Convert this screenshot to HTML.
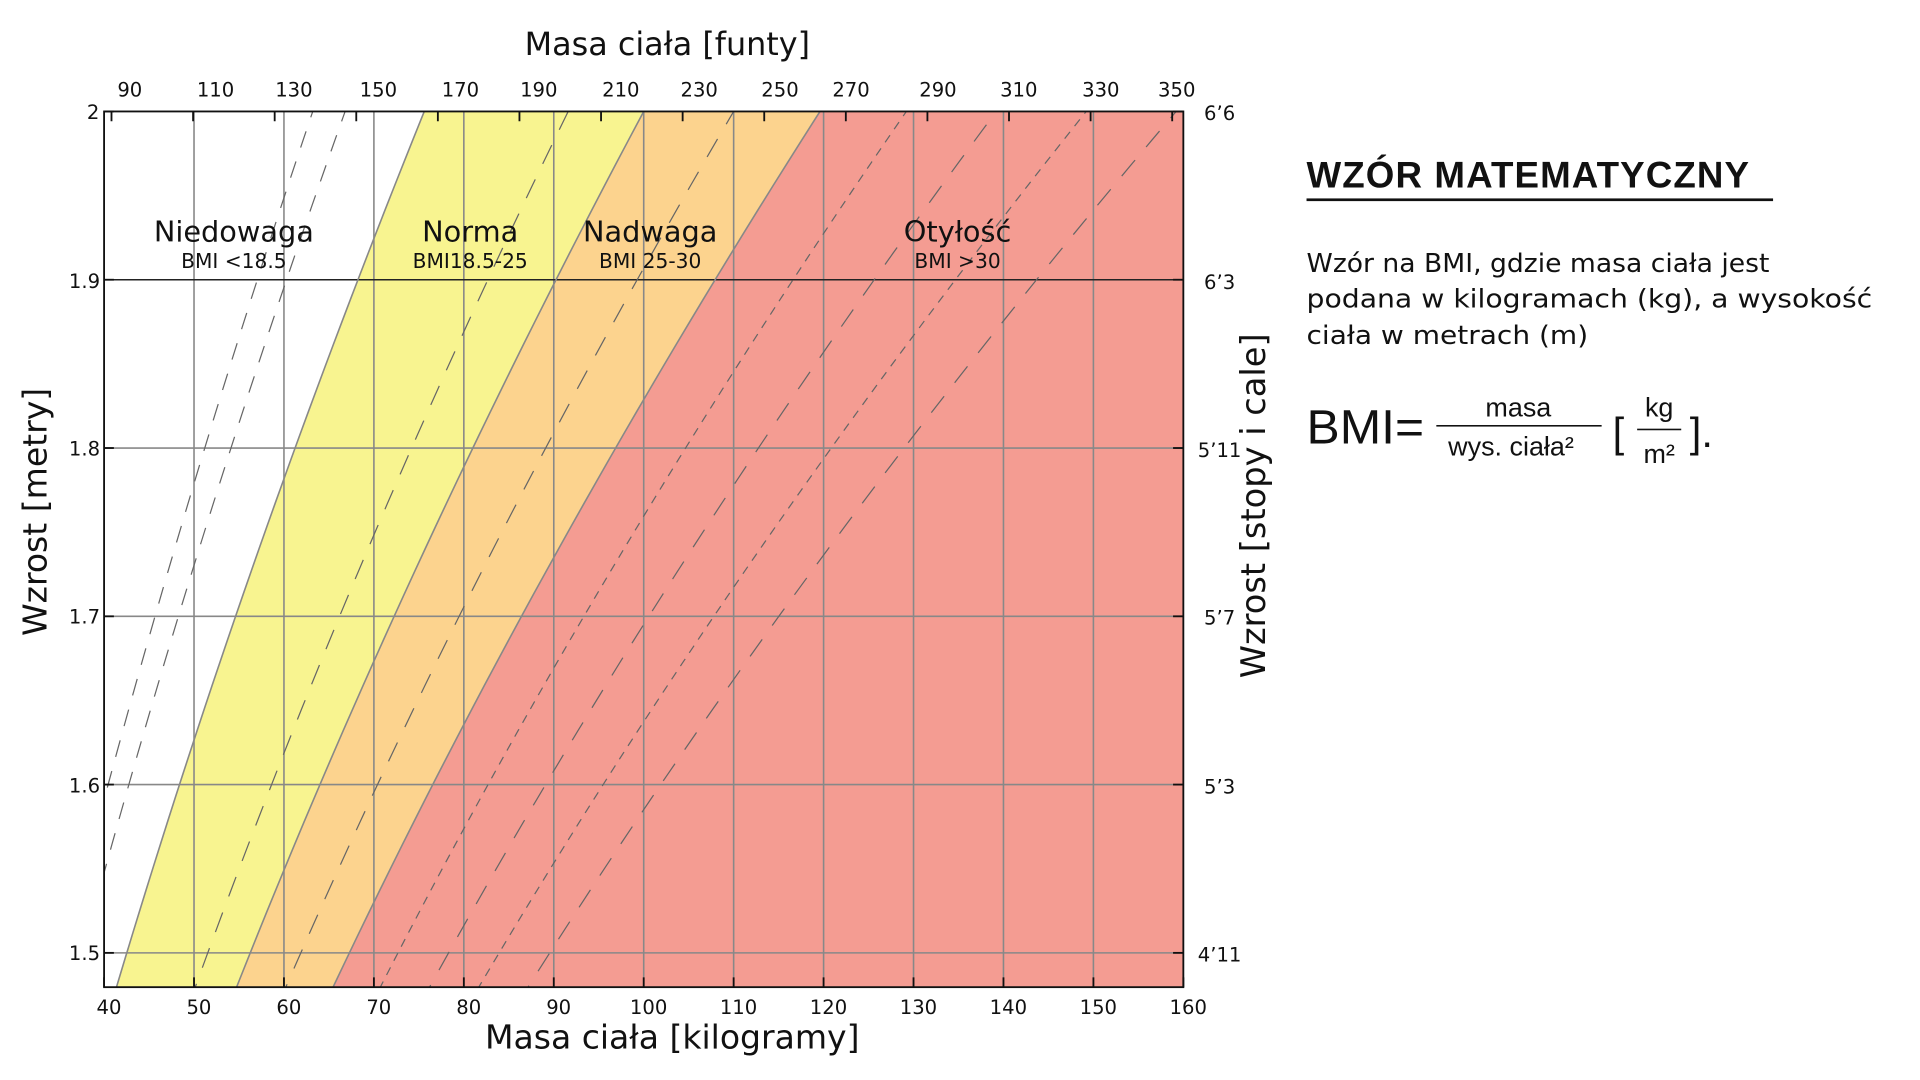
<!DOCTYPE html>
<html><head><meta charset="utf-8">
<style>
html,body{margin:0;padding:0;background:#fff;width:1920px;height:1080px;overflow:hidden}
svg{display:block}
text{font-family:"DejaVu Sans","Liberation Sans",sans-serif;fill:#111}
.os{font-family:"Liberation Sans","DejaVu Sans",sans-serif}
.dj{font-family:"DejaVu Sans","Liberation Sans",sans-serif}
</style></head><body>
<svg id="s" width="1920" height="1080" viewBox="0 0 1568 881.8" preserveAspectRatio="none" xmlns="http://www.w3.org/2000/svg">
<defs><clipPath id="pc"><rect x="85" y="91" width="881.4" height="715"/></clipPath></defs>
<rect x="85" y="91" width="881.4" height="715" fill="#fff"/>
<g id="fills" clip-path="url(#pc)"></g>
<g id="grid" clip-path="url(#pc)"></g>
<g id="dash" clip-path="url(#pc)"></g>
<g id="bnd" clip-path="url(#pc)"></g>
<rect x="85" y="91" width="881.4" height="715" fill="none" stroke="#111" stroke-width="1.5"/>
<g id="ticks"></g>
<g font-size="16" text-anchor="middle" id="lbls"></g>

<text x="545" y="45" font-size="26" text-anchor="middle">Masa ciała [funty]</text>
<text x="549" y="856" font-size="27" text-anchor="middle">Masa ciała [kilogramy]</text>
<text transform="translate(38,418) rotate(-90)" font-size="27" text-anchor="middle">Wzrost [metry]</text>
<text transform="translate(1033,413) rotate(-90)" font-size="27.5" text-anchor="middle">Wzrost [stopy i cale]</text>

<g text-anchor="middle">
<text x="191" y="197" font-size="23.5">Niedowaga</text><text x="191" y="219" font-size="16.5">BMI &lt;18.5</text>
<text x="384" y="197" font-size="23.5">Norma</text><text x="384" y="219" font-size="16.5">BMI18.5-25</text>
<text x="531" y="197" font-size="23.5">Nadwaga</text><text x="531" y="219" font-size="16.5">BMI 25-30</text>
<text x="782" y="197" font-size="23.5">Otyłość</text><text x="782" y="219" font-size="16.5">BMI &gt;30</text>
</g>

<text class="os" x="1067" y="153" font-size="30" font-weight="bold" style="letter-spacing:0.9px">WZÓR MATEMATYCZNY</text>
<rect x="1067" y="162" width="381" height="2.2" fill="#111"/>
<text class="dj" x="1067" y="222" font-size="21" textLength="378" lengthAdjust="spacingAndGlyphs">Wzór na BMI, gdzie masa ciała jest</text>
<text class="dj" x="1067" y="251" font-size="21" textLength="462" lengthAdjust="spacingAndGlyphs">podana w kilogramach (kg), a wysokość</text>
<text class="dj" x="1067" y="281" font-size="21" textLength="230" lengthAdjust="spacingAndGlyphs">ciała w metrach (m)</text>
<text class="os" x="1067" y="362" font-size="39" textLength="96" lengthAdjust="spacingAndGlyphs">BMI=</text>
<text class="os" x="1240" y="340" font-size="22" text-anchor="middle">masa</text>
<rect x="1173" y="347" width="135" height="1.3" fill="#111"/>
<text class="os" x="1234" y="372" font-size="22" text-anchor="middle">wys. ciała²</text>
<text class="os" x="1317" y="365" font-size="34">[</text>
<text class="os" x="1355" y="340" font-size="22" text-anchor="middle">kg</text>
<rect x="1337" y="350" width="36" height="1.3" fill="#111"/>
<text class="os" x="1355" y="378" font-size="22" text-anchor="middle">m²</text>
<text class="os" x="1380" y="365" font-size="34">].</text>
</svg>
<script>
var NS="http://www.w3.org/2000/svg";
function X(kg){return 85+(kg-40)*7.345;}
function Y(h){return 91+(2-h)*1374;}
var H0=1.47,H1=2.01;
function curve(b){var p=[];for(var i=0;i<=40;i++){var h=H0+(H1-H0)*i/40;p.push([X(b*h*h),Y(h)]);}return p;}
function el(g,tag,attrs){var e=document.createElementNS(NS,tag);for(var k in attrs)e.setAttribute(k,attrs[k]);document.getElementById(g).appendChild(e);return e;}
function pstr(p){return p.map(function(q,i){return (i?"L":"M")+q[0].toFixed(2)+" "+q[1].toFixed(2);}).join(" ");}
function band(b1,b2,col){var a=curve(b1),c=curve(b2).reverse();el("fills","path",{d:pstr(a.concat(c))+"Z",fill:col});}
band(18.9,25,"#f8f490");band(25,29.9,"#fcd38e");band(29.9,200,"#f49c92");
for(var k=50;k<160;k+=10){el("grid","line",{x1:X(k),x2:X(k),y1:91,y2:806,stroke:"#888","stroke-width":1.3});}
[1.5,1.6,1.7,1.8,1.9].forEach(function(h){el("grid","line",{x1:85,x2:966.4,y1:Y(h),y2:Y(h),stroke:h==1.9?"#222":"#888","stroke-width":1.3});});
[[15.8,"14 12"],[16.7,"14 12"],[22.9,"17 14"],[27.5,"17 14"],[32.3,"7 6"],[34.8,"17 14"],[37.3,"7 6"],[39.8,"17 14"]].forEach(function(d){
 el("dash","path",{d:pstr(curve(d[0])),fill:"none",stroke:"#666","stroke-width":1,"stroke-dasharray":d[1]});});
[18.9,25,29.9].forEach(function(b){el("bnd","path",{d:pstr(curve(b)),fill:"none",stroke:"#888","stroke-width":1.3});});
for(var k=40;k<=160;k+=10){el("ticks","line",{x1:X(k),x2:X(k),y1:806,y2:798,stroke:"#111","stroke-width":1.5});}
[1.5,1.6,1.7,1.8,1.9,2.0].forEach(function(h){el("ticks","line",{x1:85,x2:93,y1:Y(h),y2:Y(h),stroke:"#111","stroke-width":1.5});el("ticks","line",{x1:958,x2:966,y1:Y(h),y2:Y(h),stroke:"#111","stroke-width":1.5});});
var lb=[90,110,130,150,170,190,210,230,250,270,290,310,330,350];
var lbx=[106,176,240,309,376,440,507,571,637,695,766,832,899,961];
lb.forEach(function(v,i){var x=X(v*0.4536);el("ticks","line",{x1:x,x2:x,y1:91,y2:99,stroke:"#111","stroke-width":1.5});
 var t=el("lbls","text",{x:lbx[i],y:79});t.textContent=v;});
for(var k=40;k<=160;k+=10){var t=el("lbls","text",{x:X(k)+4,y:828});t.textContent=k;}
[["1.5",778],["1.6",641],["1.7",503],["1.8",366],["1.9",229],["2",91]].forEach(function(a){var t=el("lbls","text",{x:a[0]=="2"?76:69,y:a[1]+6});t.textContent=a[0];});
[["6’6",91],["6’3",229],["5’11",366],["5’7",503],["5’3",641],["4’11",778]].forEach(function(a){var t=el("lbls","text",{x:996,y:a[1]+7});t.textContent=a[0];});
</script>
</body></html>
